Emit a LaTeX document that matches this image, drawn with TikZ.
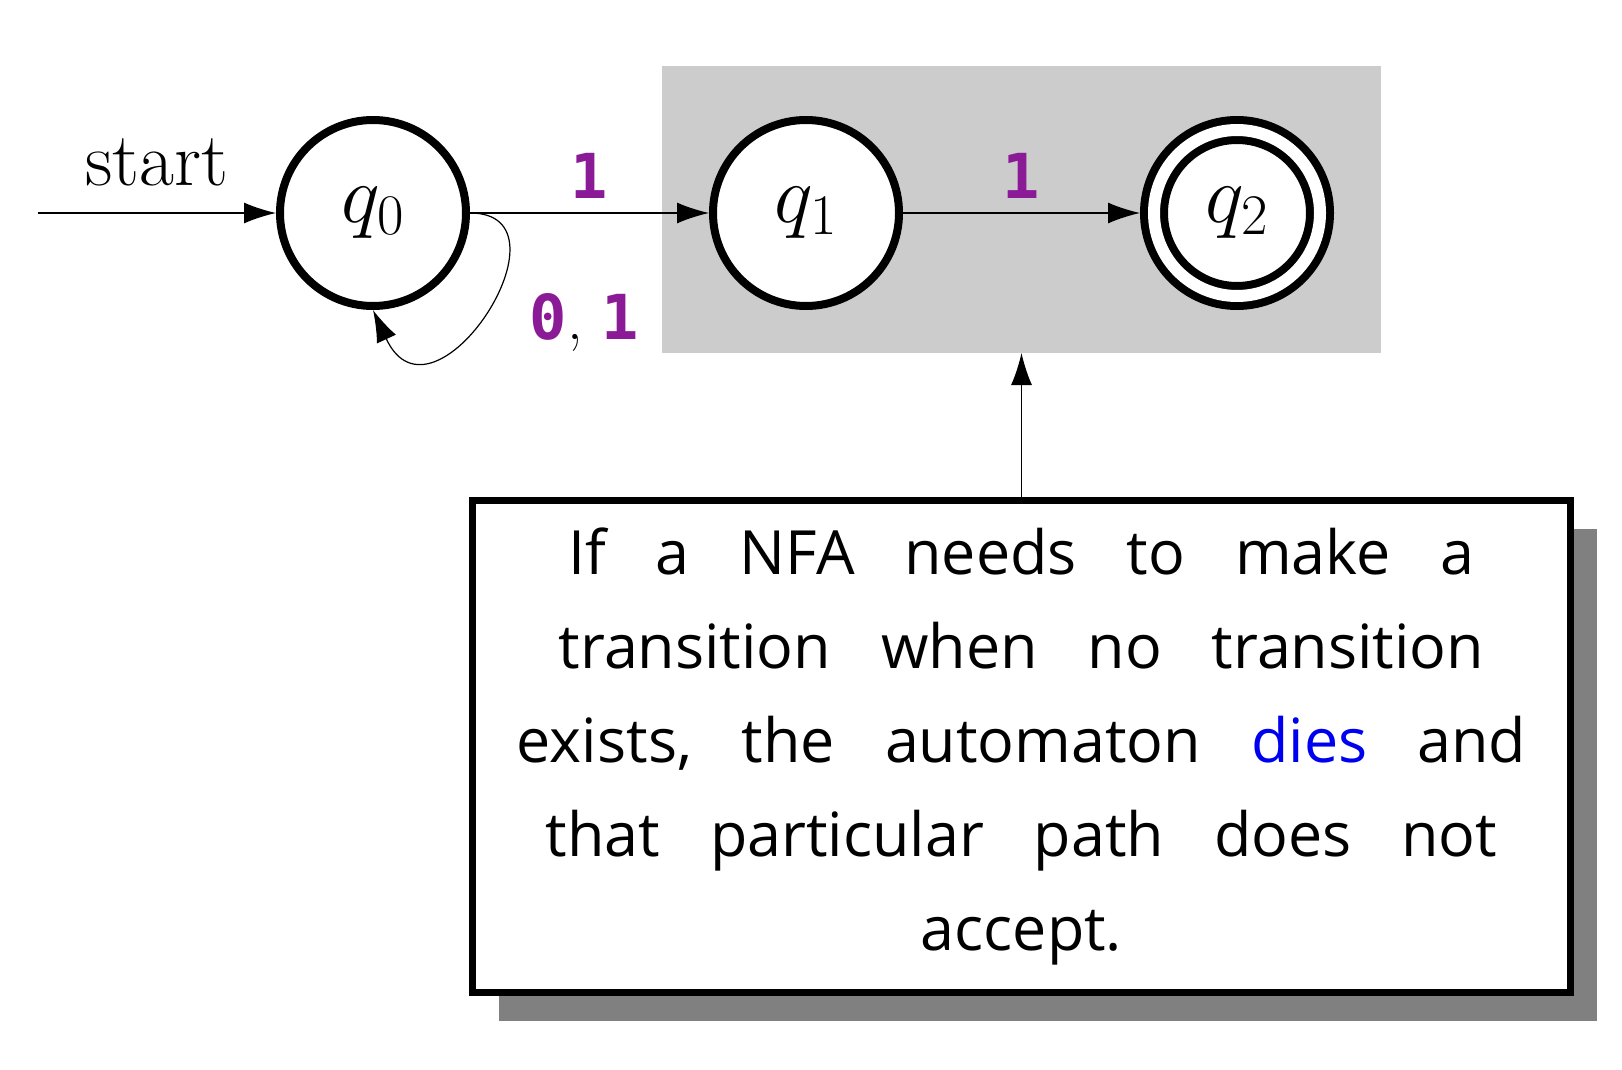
\RequirePackage{fix-cm}
\documentclass[tikz,border=0pt]{standalone}
\usepackage{fontspec}
\usepackage{tikz}
\usetikzlibrary{arrows.meta,positioning,shadows}
\usepackage{xcolor}
\newfontfamily\labelfont{DejaVu Sans Mono}
\newfontfamily\notefont{Open Sans}[WordSpace=3.15]
\definecolor{symbolpurple}{RGB}{139,26,150}
\definecolor{regiongray}{RGB}{204,204,204}
\definecolor{shadowgray}{RGB}{128,128,128}
\definecolor{diesblue}{RGB}{0,0,240}
\newcommand{\sym}[1]{\textcolor{symbolpurple}{\labelfont\bfseries #1}}

\begin{document}
\begin{tikzpicture}[
  x=0.5pt, y=-0.5pt,
  state/.style={circle, draw, line width=4pt, fill=white, minimum size=93pt, inner sep=0pt, font=\fontsize{41}{43}\selectfont},
  accepting/.style={state, double, double distance=6pt, minimum size=83pt, outer sep=7pt},
  region/.style={fill=regiongray, minimum width=359.5pt, minimum height=143.5pt, inner sep=0pt, outer sep=0pt},
  note/.style={draw, line width=3.5pt, fill=white, minimum width=549pt, minimum height=246pt, align=center,
    drop shadow={shadow xshift=13pt, shadow yshift=-14pt, opacity=1, fill=shadowgray},
    font=\notefont\fontsize{30.5}{47}\selectfont},
  symbol/.style={font=\fontsize{31}{33}\selectfont, inner sep=2pt},
  arrow/.style={-{Latex[length=16pt, width=10.5pt]}, line width=0.6pt}
]
  \useasboundingbox (0,0) rectangle (1622,1070);

  \node[region] (zone) at (1021.5,209.5) {};
  \node[state] (q0) at (373,213) {$q_0$};
  \node[state] (q1) at (806,213) {$q_1$};
  \node[accepting] (q2) at (1237,213) {$q_2$};
  \coordinate (init) at (38,213);
  \node[note] (msg) at (1021.5,746.5) {If a NFA needs to make a\\
    transition when no transition\\
    exists, the automaton \textcolor{diesblue}{dies} and\\
    that particular path does not\\
    accept.};

  \draw[arrow] (init) -- (q0) node[midway, above=10pt, font=\fontsize{38}{40}\selectfont] {start};
  \draw[arrow] (q0) -- (q1) node[midway, above=5pt, symbol] {\sym{1}};
  \draw[arrow] (q1) -- (q2) node[midway, above=5pt, symbol] {\sym{1}};
  \draw[arrow] (q0.east) .. controls +(110,0) and +(60,130) .. (q0.south)
    node[pos=0.5, anchor=west, xshift=20pt, yshift=-6pt, symbol] {\sym{0}, \sym{1}};
  \draw[arrow] (msg) -- (zone);
\end{tikzpicture}
\end{document}
